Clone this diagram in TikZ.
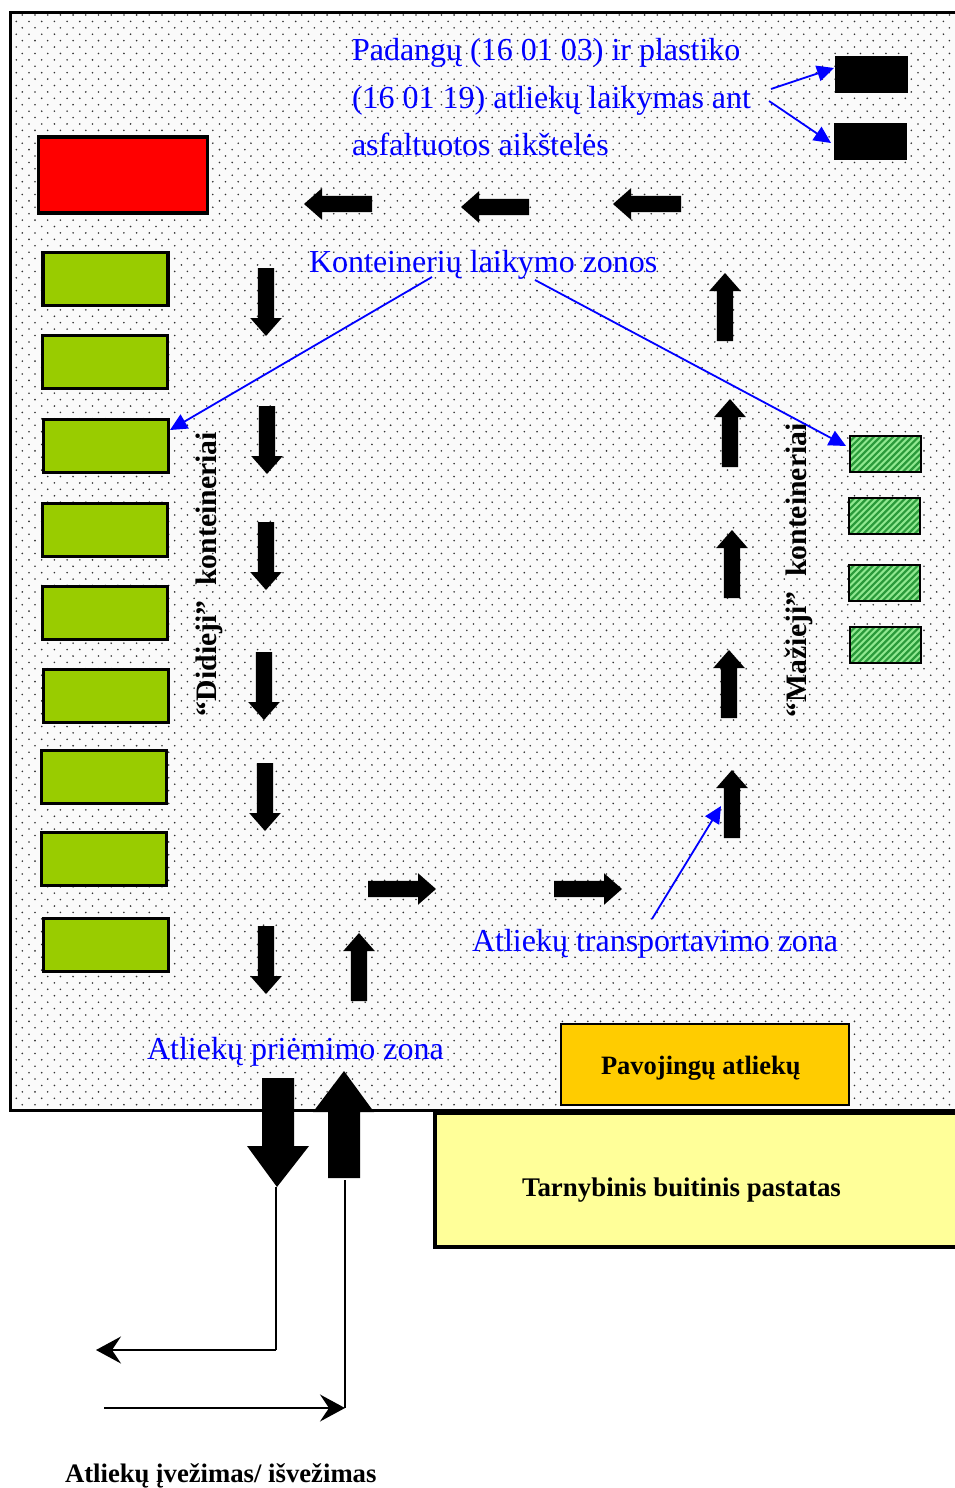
\documentclass[tikz,border=0pt]{standalone}
\usepackage{fontspec}
\setmainfont{Liberation Serif}
\usetikzlibrary{arrows.meta}
\definecolor{bgc}{HTML}{FAFAFA}
\definecolor{dotc}{HTML}{333333}
\definecolor{boxgreen}{HTML}{99CC00}
\definecolor{hatchlight}{HTML}{90E890}
\definecolor{hatchdark}{HTML}{2A9A3A}
\definecolor{orangebox}{HTML}{FFCC00}
\definecolor{yellowbox}{HTML}{FFFF99}
\definecolor{bluetxt}{HTML}{0000FF}
\tikzset{
  rectbase/.style={draw=black,inner sep=0pt,outer sep=0pt,rectangle},
  greenbox/.style={rectbase,fill=boxgreen,line width=3.5pt,minimum width=125pt,minimum height=53pt},
  redbox/.style={rectbase,fill=red,line width=3.5pt,minimum width=169pt,minimum height=76pt},
  blackbox/.style={rectangle,inner sep=0pt,outer sep=0pt,fill=black,minimum width=73pt,minimum height=37pt},
  hatchbox/.style={rectbase,fill=hatchlight,line width=2pt,minimum width=71pt,minimum height=36pt,
    path picture={
      \foreach \k in {-8,...,20}{
        \draw[hatchdark,line width=2.2pt]
          ([shift={(\k*6.4pt-10pt,-5pt)}]path picture bounding box.south west)
          -- ++(46pt,46pt);
      }
    }},
  bluelabel/.style={text=bluetxt,anchor=base west,inner sep=0pt,outer sep=0pt,font=\fontsize{32}{36}\selectfont},
  blacklabel/.style={text=black,anchor=base west,inner sep=0pt,outer sep=0pt,font=\fontsize{#1}{30}\selectfont\bfseries},
  bluearrow/.style={draw=bluetxt,line width=1.8pt,-{Stealth[length=17pt,width=16pt,inset=0pt]}},
  thinline/.style={draw=black,line width=2pt},
  thinarrow/.style={thinline,-{Stealth[length=25pt,width=27pt,inset=9pt]}},
  dotrow/.style={draw=dotc,line width=1.8pt,line cap=round,dash pattern=on 0pt off 12.7pt},
  dirright/.style={x={(1pt,0pt)},y={(0pt,1pt)}},
  dirleft/.style={x={(-1pt,0pt)},y={(0pt,1pt)}},
  dirup/.style={x={(0pt,1pt)},y={(1pt,0pt)}},
  dirdown/.style={x={(0pt,-1pt)},y={(1pt,0pt)}},
}
% tail x, tail y, direction style
\newcommand{\blockarrow}[3]{%
  \fill[black,shift={(#1,#2)},#3]
    (0,8.2)--(50,8.2)--(50,15.8)--(68,0)--(50,-15.8)--(50,-8.2)--(0,-8.2)--cycle;}
\begin{document}
\begin{tikzpicture}[x=1pt,y=-1pt]
\useasboundingbox (0,0) rectangle (955,1488);
\clip (0,0) rectangle (955,1488);
\fill[white] (0,0) rectangle (955,1488);
% yard
\fill[bgc] (10,13) rectangle (960,1110);
\foreach \r in {0,2,...,170}{\draw[dotrow] (22.3,{15+6.41*\r}) -- (960,{15+6.41*\r});}
\foreach \r in {1,3,...,169}{\draw[dotrow] (16.3,{15+6.41*\r}) -- (960,{15+6.41*\r});}
\draw[black,line width=3pt] (965,13) -- (10,13) -- (10,1110) -- (965,1110);
% boxes
\node[redbox] (red) at (123,175) {};
\node[greenbox] (g1) at (105.5,279) {};
\node[greenbox] (g2) at (105,362) {};
\node[greenbox] (g3) at (106,446) {};
\node[greenbox] (g4) at (105,530) {};
\node[greenbox] (g5) at (105,613) {};
\node[greenbox] (g6) at (106,696) {};
\node[greenbox] (g7) at (104,777) {};
\node[greenbox] (g8) at (104,859) {};
\node[greenbox] (g9) at (106,945) {};
\node[blackbox] (b1) at (871.5,74.5) {};
\node[blackbox] (b2) at (870.5,141.5) {};
\node[hatchbox] (h1) at (885.5,454) {};
\node[hatchbox] (h2) at (884.5,516) {};
\node[hatchbox] (h3) at (884.5,583) {};
\node[hatchbox] (h4) at (885.5,645) {};
\node[rectbase,fill=orangebox,line width=1.8pt,minimum width=288pt,minimum height=81pt] (pav) at (705,1064.5) {};
\node[rectbase,fill=yellowbox,line width=4.5pt,minimum width=560pt,minimum height=134pt] (tar) at (715,1180) {};
% block arrows
\blockarrow{266}{268}{dirdown}
\blockarrow{267}{406}{dirdown}
\blockarrow{266}{522}{dirdown}
\blockarrow{264}{652}{dirdown}
\blockarrow{265}{763}{dirdown}
\blockarrow{266}{926}{dirdown}
\blockarrow{359}{1001}{dirup}
\blockarrow{725}{341}{dirup}
\blockarrow{730}{467}{dirup}
\blockarrow{732}{598}{dirup}
\blockarrow{729}{718}{dirup}
\blockarrow{732}{838}{dirup}
\blockarrow{368}{889}{dirright}
\blockarrow{554}{889}{dirright}
\blockarrow{372}{204}{dirleft}
\blockarrow{529}{207}{dirleft}
\blockarrow{681}{204}{dirleft}
% big arrows
\fill[black] (262,1078)--(294,1078)--(294,1146)--(309,1146)--(277,1187)--(247,1146)--(262,1146)--cycle;
\fill[black] (328,1178)--(360,1178)--(360,1112)--(374,1112)--(344,1071)--(313,1112)--(328,1112)--cycle;
% labels
\node[bluelabel] (t1) at (352,60) {Padangų (16 01 03) ir plastiko};
\node[bluelabel] (t2) at (352,108) {(16 01 19) atliekų laikymas ant};
\node[bluelabel] (t3) at (352,155) {asfaltuotos aikštelės};
\node[bluelabel] (t4) at (309,272) {Konteinerių laikymo zonos};
\node[bluelabel] (t5) at (472,951) {Atliekų transportavimo zona};
\node[bluelabel] (t6) at (147,1059) {Atliekų priėmimo zona};
\node[blacklabel=26.5] (t7) at (601,1074) {Pavojingų atliekų};
\node[blacklabel=26.9] (t8) at (522,1196) {Tarnybinis buitinis pastatas};
\node[blacklabel=26.7] (t9) at (65,1482) {Atliekų įvežimas/ išvežimas};
\node[blacklabel=29.7,rotate=90] (t10) at (216,716) {“Didieji”\ \ konteineriai};
\node[blacklabel=29.7,rotate=90] (t11) at (806,717) {“Mažieji”\ \ konteineriai};
% blue connectors
\coordinate (s1) at (771,89);
\coordinate (e1) at (834,68);
\coordinate (s2) at (769,101);
\coordinate (e2) at (831,143);
\coordinate (s3) at (432,277);
\coordinate (e3) at (170,430);
\coordinate (s4) at (535,280);
\coordinate (e4) at (846,446);
\coordinate (s5) at (652,919);
\coordinate (e5) at (721,806);
\draw[bluearrow] (s1) -- (e1);
\draw[bluearrow] (s2) -- (e2);
\draw[bluearrow] (s3) -- (e3);
\draw[bluearrow] (s4) -- (e4);
\draw[bluearrow] (s5) -- (e5);
% thin connectors
\coordinate (a1) at (276,1187);
\coordinate (a2) at (276,1350);
\coordinate (a3) at (96,1350);
\coordinate (c1) at (345,1180);
\coordinate (c2) at (345,1408);
\coordinate (c3) at (104,1408);
\draw[thinline] (a1) -- (a2);
\draw[thinarrow] (a2) -- (a3);
\draw[thinline] (c1) -- (c2);
\draw[thinarrow] (c3) -- (c2);
\end{tikzpicture}
\end{document}
